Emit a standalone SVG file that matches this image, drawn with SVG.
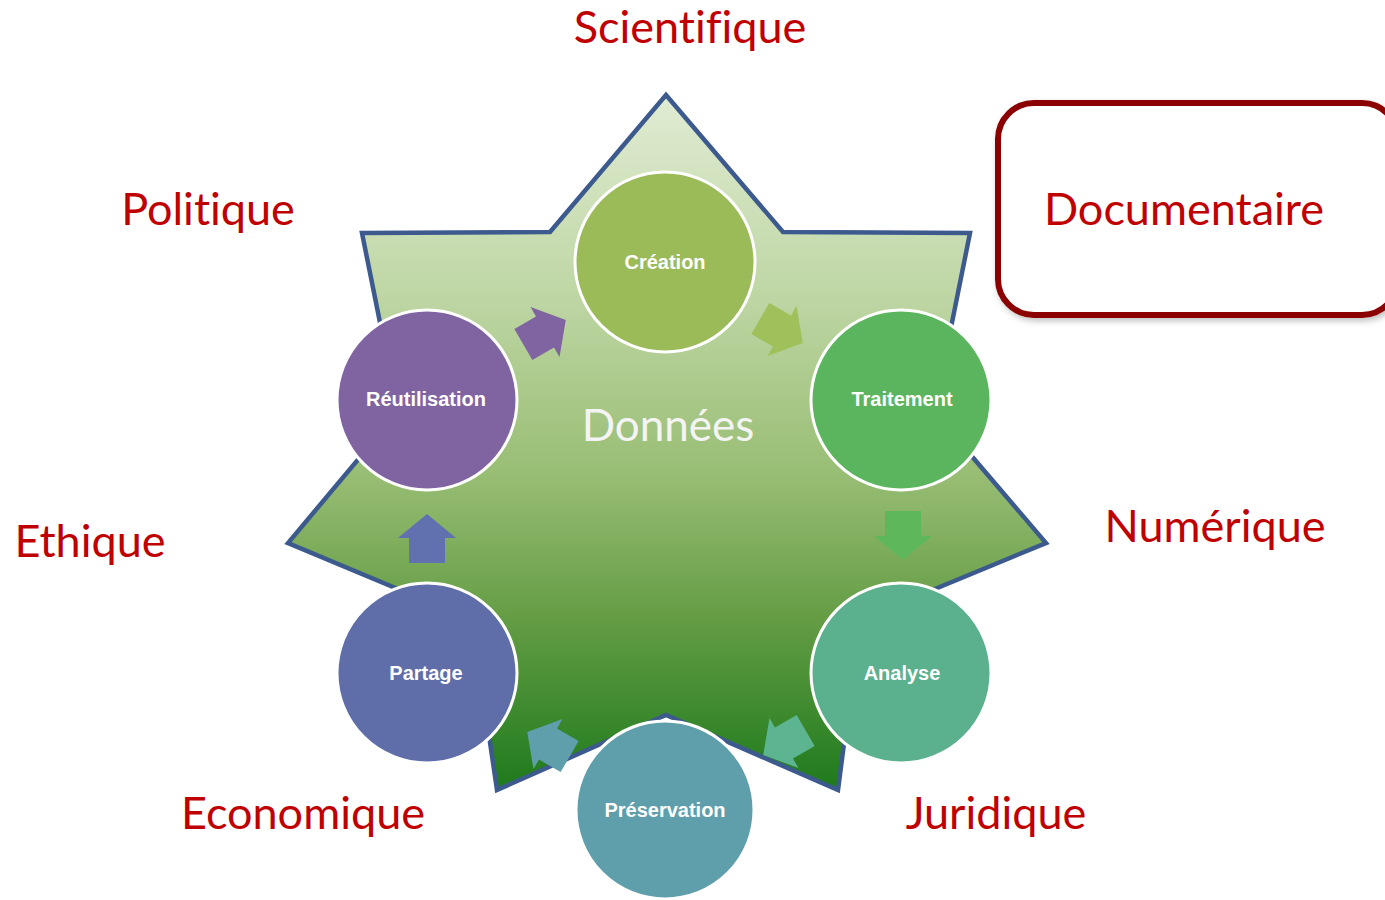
<svg xmlns="http://www.w3.org/2000/svg" width="1385" height="900" viewBox="0 0 1385 900">
<defs>
<linearGradient id="starGrad" x1="0" y1="95" x2="0" y2="790" gradientUnits="userSpaceOnUse">
<stop offset="0" stop-color="#e0ecd3"/>
<stop offset="0.3" stop-color="#bdd5a2"/>
<stop offset="0.55" stop-color="#97bd73"/>
<stop offset="0.75" stop-color="#659d45"/>
<stop offset="1" stop-color="#1e7a1c"/>
</linearGradient>
<filter id="shadow" x="-10%" y="-10%" width="130%" height="130%">
<feGaussianBlur in="SourceAlpha" stdDeviation="3"/>
<feOffset dx="2" dy="3" result="b"/>
<feFlood flood-color="#000" flood-opacity="0.25"/>
<feComposite in2="b" operator="in"/>
<feMerge><feMergeNode/><feMergeNode in="SourceGraphic"/></feMerge>
</filter>
<path id="arr" d="M0,-24 L29,0 L18,0 L18,25 L-18,25 L-18,0 L-29,0 Z"/>
</defs>
<style>
.lbl{font-family:"Liberation Sans",Arial,sans-serif;font-weight:bold;font-size:20px;fill:#fff;text-anchor:middle}
.cat{font-family:Lato,"Open Sans",sans-serif;font-size:45px;fill:#c00000;font-variant-ligatures:none}
.node{stroke:#fff;stroke-width:3}
</style>
<g id="star">
<polygon points="666,95 783,232 970,233 934,412 1046,543 860,620 838,790 666,715 497,790 472,620 288,543 398,412 362,233 550,232" fill="url(#starGrad)" stroke="#3d5a8e" stroke-width="4.5" stroke-linejoin="miter"/>
<text x="668" y="441" font-family="Lato,'Open Sans',sans-serif" font-size="44" fill="#f4f4f4" text-anchor="middle">Données</text>
</g>
<g id="connectors">
<use href="#arr" transform="translate(545,332) rotate(60)" fill="#8064a2"/>
<use href="#arr" transform="translate(782,331) rotate(120)" fill="#9fc05a"/>
<use href="#arr" transform="translate(903,536) rotate(180)" fill="#5fb75c"/>
<use href="#arr" transform="translate(784,743) rotate(-120)" fill="#5db490"/>
<use href="#arr" transform="translate(548,744) rotate(-60)" fill="#5f9eab"/>
<use href="#arr" transform="translate(427,538)" fill="#6171b0"/>
</g>
<g id="creation"><circle class="node" cx="665" cy="262" r="90" fill="#9bbb59"/><text class="lbl" x="665" y="269">Création</text></g>
<g id="traitement"><circle class="node" cx="901" cy="400" r="90" fill="#5bb55e"/><text class="lbl" x="902" y="406">Traitement</text></g>
<g id="analyse"><circle class="node" cx="901" cy="673" r="90" fill="#5bb08e"/><text class="lbl" x="902" y="680">Analyse</text></g>
<g id="preservation"><circle class="node" cx="665" cy="810" r="89" fill="#5f9eab"/><text class="lbl" x="665" y="817">Préservation</text></g>
<g id="partage"><circle class="node" cx="427" cy="673" r="90" fill="#5f6ea8"/><text class="lbl" x="426" y="680">Partage</text></g>
<g id="reutilisation"><circle class="node" cx="427" cy="400" r="90" fill="#8064a2"/><text class="lbl" x="426" y="406">Réutilisation</text></g>
<g id="documentaire">
<rect x="998" y="103" width="400" height="212" rx="36" ry="36" fill="#fff" stroke="#8b0000" stroke-width="6" filter="url(#shadow)"/>
<text class="cat" x="1184" y="225" text-anchor="middle">Documentaire</text>
</g>
<g id="categories">
<text class="cat" x="690" y="43" text-anchor="middle">Scientifique</text>
<text class="cat" x="208" y="225" text-anchor="middle">Politique</text>
<text class="cat" x="90" y="557" text-anchor="middle">Ethique</text>
<text class="cat" x="1215" y="542" text-anchor="middle">Numérique</text>
<text class="cat" x="303" y="829" text-anchor="middle">Economique</text>
<text class="cat" x="996" y="829" text-anchor="middle">Juridique</text>
</g>
</svg>
